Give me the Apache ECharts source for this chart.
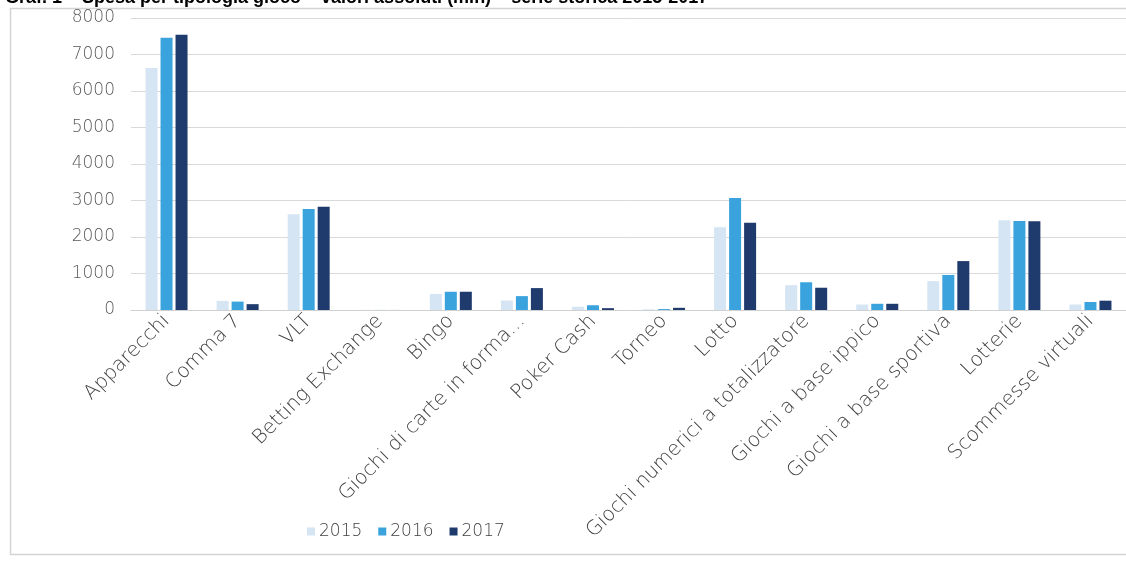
<!DOCTYPE html>
<html>
<head>
<meta charset="utf-8">
<script src="https://cdn.jsdelivr.net/npm/echarts@6/dist/echarts.min.js"></script>
<style>
html,body{margin:0;padding:0;background:#fff;}
#chart{width:1126px;height:562px;}
</style>
</head>
<body>
<div id="chart"></div>
<script>
const titleText = "Graf. 1 – Spesa per tipologia gioco – valori assoluti (mln) – serie storica 2015-2017";
const categories = ["Apparecchi","Comma 7","VLT","Betting Exchange","Bingo","Giochi di carte in forma...","Poker Cash","Torneo","Lotto","Giochi numerici a totalizzatore","Giochi a base ippico","Giochi a base sportiva","Lotterie","Scommesse virtuali"];
const seriesNames = ["2015","2016","2017"];
const v2015 = [6630, 250, 2620, 2, 440, 260, 90, 20, 2270, 680, 150, 790, 2460, 150];
const v2016 = [7460, 230, 2770, 2, 500, 380, 130, 25, 3070, 760, 170, 960, 2440, 220];
const v2017 = [7540, 160, 2830, 1, 500, 600, 50, 60, 2390, 610, 170, 1340, 2430, 255];
const yTicks = [0, 1000, 2000, 3000, 4000, 5000, 6000, 7000, 8000];
const colors = ["#d5e5f3", "#3aa3dd", "#1f3a6c"];

const chart = echarts.init(document.getElementById('chart'));
const labelFont = "'DejaVu Sans', sans-serif";
chart.setOption({
  animation: false,
  backgroundColor: '#ffffff',
  title: {
    text: titleText,
    left: 0, top: -16,
    textStyle: {fontFamily: "'Liberation Sans', Arial, sans-serif", fontWeight: 'bold', fontSize: 18, color: '#000'}
  },
  graphic: [{
    type: 'rect', silent: true, z: -1,
    shape: {x: 10.5, y: 8.5, width: 1140, height: 546},
    style: {fill: 'none', stroke: '#d4d4d4', lineWidth: 1.5}
  }],
  legend: {
    data: seriesNames,
    left: 302, top: 518,
    itemWidth: 8, itemHeight: 8, itemGap: 16,
    icon: 'rect',
    textStyle: {fontFamily: labelFont, fontWeight: 200, fontSize: 17, color: '#404040', padding: [0,0,0,-1]}
  },
  grid: {left: 131, right: -15, top: 18, bottom: 252, containLabel: false},
  xAxis: {
    type: 'category',
    data: categories,
    axisTick: {show: false},
    axisLine: {lineStyle: {color: '#d0d0d0', width: 1}},
    axisLabel: {rotate: 45, interval: 0, margin: 8, fontFamily: labelFont, fontWeight: 200, fontSize: 20, color: '#404040'}
  },
  yAxis: {
    type: 'value',
    min: yTicks[0], max: yTicks[yTicks.length-1], interval: 1000,
    axisLine: {show: false}, axisTick: {show: false},
    splitLine: {lineStyle: {color: '#d9d9d9', width: 1}},
    axisLabel: {margin: 16, fontFamily: labelFont, fontWeight: 200, fontSize: 17, color: '#595959', formatter: function (v) { return String(v); }}
  },
  series: [
    {name: seriesNames[0], type: 'bar', data: v2015, itemStyle: {color: colors[0]}, barWidth: 12, barGap: '25%'},
    {name: seriesNames[1], type: 'bar', data: v2016, itemStyle: {color: colors[1]}, barWidth: 12, barGap: '25%'},
    {name: seriesNames[2], type: 'bar', data: v2017, itemStyle: {color: colors[2]}, barWidth: 12, barGap: '25%'}
  ]
});
</script>
</body>
</html>
